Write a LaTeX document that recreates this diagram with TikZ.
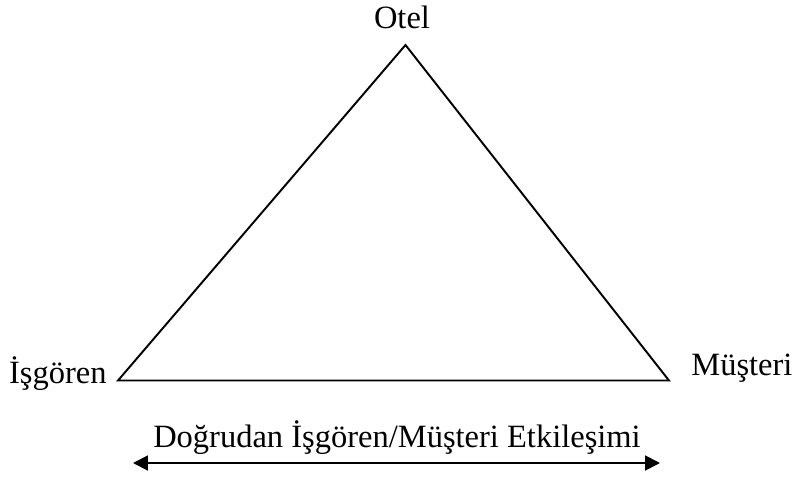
\documentclass[tikz,border=0pt]{standalone}
\usepackage{fontspec}
\setmainfont{Liberation Serif}
\usetikzlibrary{arrows.meta}

\begin{document}
\begin{tikzpicture}[x=0.02cm,y=-0.02cm,
  lbl/.style={font=\fontsize{18.5}{22}\selectfont,inner sep=0pt},
  side/.style={line width=1.1pt,line join=miter}]
  \useasboundingbox (0,0) rectangle (792,477);
  % corners of the triangle
  \coordinate (otel) at (405.5,45);
  \coordinate (isg) at (118,380.5);
  \coordinate (mus) at (669,380.5);
  \draw[side] (otel) -- (mus) -- (isg) -- cycle;
  \node[lbl,anchor=base] (otelL) at (402,28) {Otel};
  \node[lbl,anchor=base east] (isgL) at (107,383) {İşgören};
  \node[lbl,anchor=base west] (musL) at (691,375) {Müşteri};
  % interaction arrow
  \node[lbl,anchor=base] (etk) at (397,447) {Doğrudan İşgören/Müşteri Etkileşimi};
  \coordinate (arrL) at (133,463);
  \coordinate (arrR) at (660,463);
  \draw[line width=1.1pt,{Triangle[length=0.3cm,width=0.3cm]}-{Triangle[length=0.3cm,width=0.3cm]}] (arrL) -- (arrR);
\end{tikzpicture}
\end{document}
